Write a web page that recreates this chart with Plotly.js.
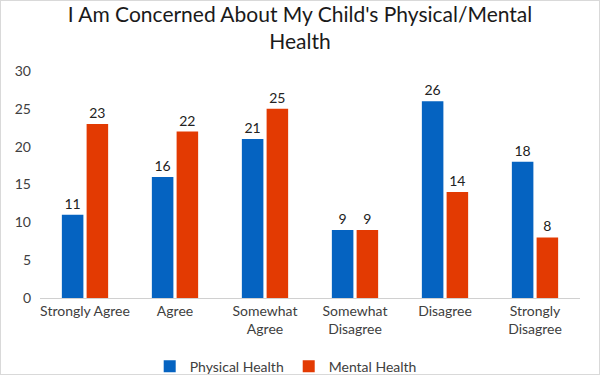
<!DOCTYPE html>
<html>
<head>
<meta charset="utf-8">
<script src="https://cdn.plot.ly/plotly-3.0.1.min.js"></script>
<style>
html,body{margin:0;padding:0;background:#fff;}
#chart{width:600px;height:375px;box-sizing:border-box;border:1px solid #d9d9d9;}
</style>
</head>
<body>
<div id="chart"></div>
<script>
const categories = ["Strongly Agree", "Agree", "Somewhat<br>Agree", "Somewhat<br>Disagree", "Disagree", "Strongly<br>Disagree"];
const physicalHealth = [11, 16, 21, 9, 26, 18];
const mentalHealth = [23, 22, 25, 9, 14, 8];
const seriesNames = ["Physical Health", "Mental Health"];
const yTicks = [0, 5, 10, 15, 20, 25, 30];

const FONT = "Lato, 'Open Sans', sans-serif";

const traces = [
  {type:"bar", name:seriesNames[0], x:categories, y:physicalHealth,
   marker:{color:"#0563C1"}, text:physicalHealth.map(String), textposition:"outside",
   textfont:{size:14, color:"#222", family:FONT}, cliponaxis:false, hoverinfo:"none"},
  {type:"bar", name:seriesNames[1], x:categories, y:mentalHealth,
   marker:{color:"#E33A02"}, text:mentalHealth.map(String), textposition:"outside",
   textfont:{size:14, color:"#222", family:FONT}, cliponaxis:false, hoverinfo:"none"}
];

const layout = {
  width:598, height:373,
  margin:{l:39, r:19, t:70, b:76, autoexpand:false},
  paper_bgcolor:"#fff", plot_bgcolor:"#fff",
  font:{family:FONT, color:"#404040", size:14},
  title:{text:"I Am Concerned About My Child's Physical/Mental<br>Health", x:0.5, xanchor:"center",
         yref:"container", y:0.945, yanchor:"top",
         font:{size:21, color:"#1a1a1a", family:FONT}},
  barmode:"group", bargap:0.45, bargroupgap:0.13,
  xaxis:{showgrid:false, showline:true, linecolor:"#d0d0d0", linewidth:1, ticks:"",
         tickfont:{size:14, color:"#404040"}, fixedrange:true, automargin:false},
  yaxis:{range:[0,30], tickvals:yTicks, showgrid:false, zeroline:false, showline:false,
         tickfont:{size:14, color:"#404040"}, ticklabelstandoff:8, fixedrange:true, automargin:false},
  showlegend:true,
  legend:{orientation:"h", x:0.455, xanchor:"center", yref:"container", y:0.02, yanchor:"middle",
          font:{size:14, color:"#404040"}, itemwidth:30, traceorder:"normal"}
};

Plotly.newPlot("chart", traces, layout, {staticPlot:true, displayModeBar:false});
</script>
</body>
</html>
